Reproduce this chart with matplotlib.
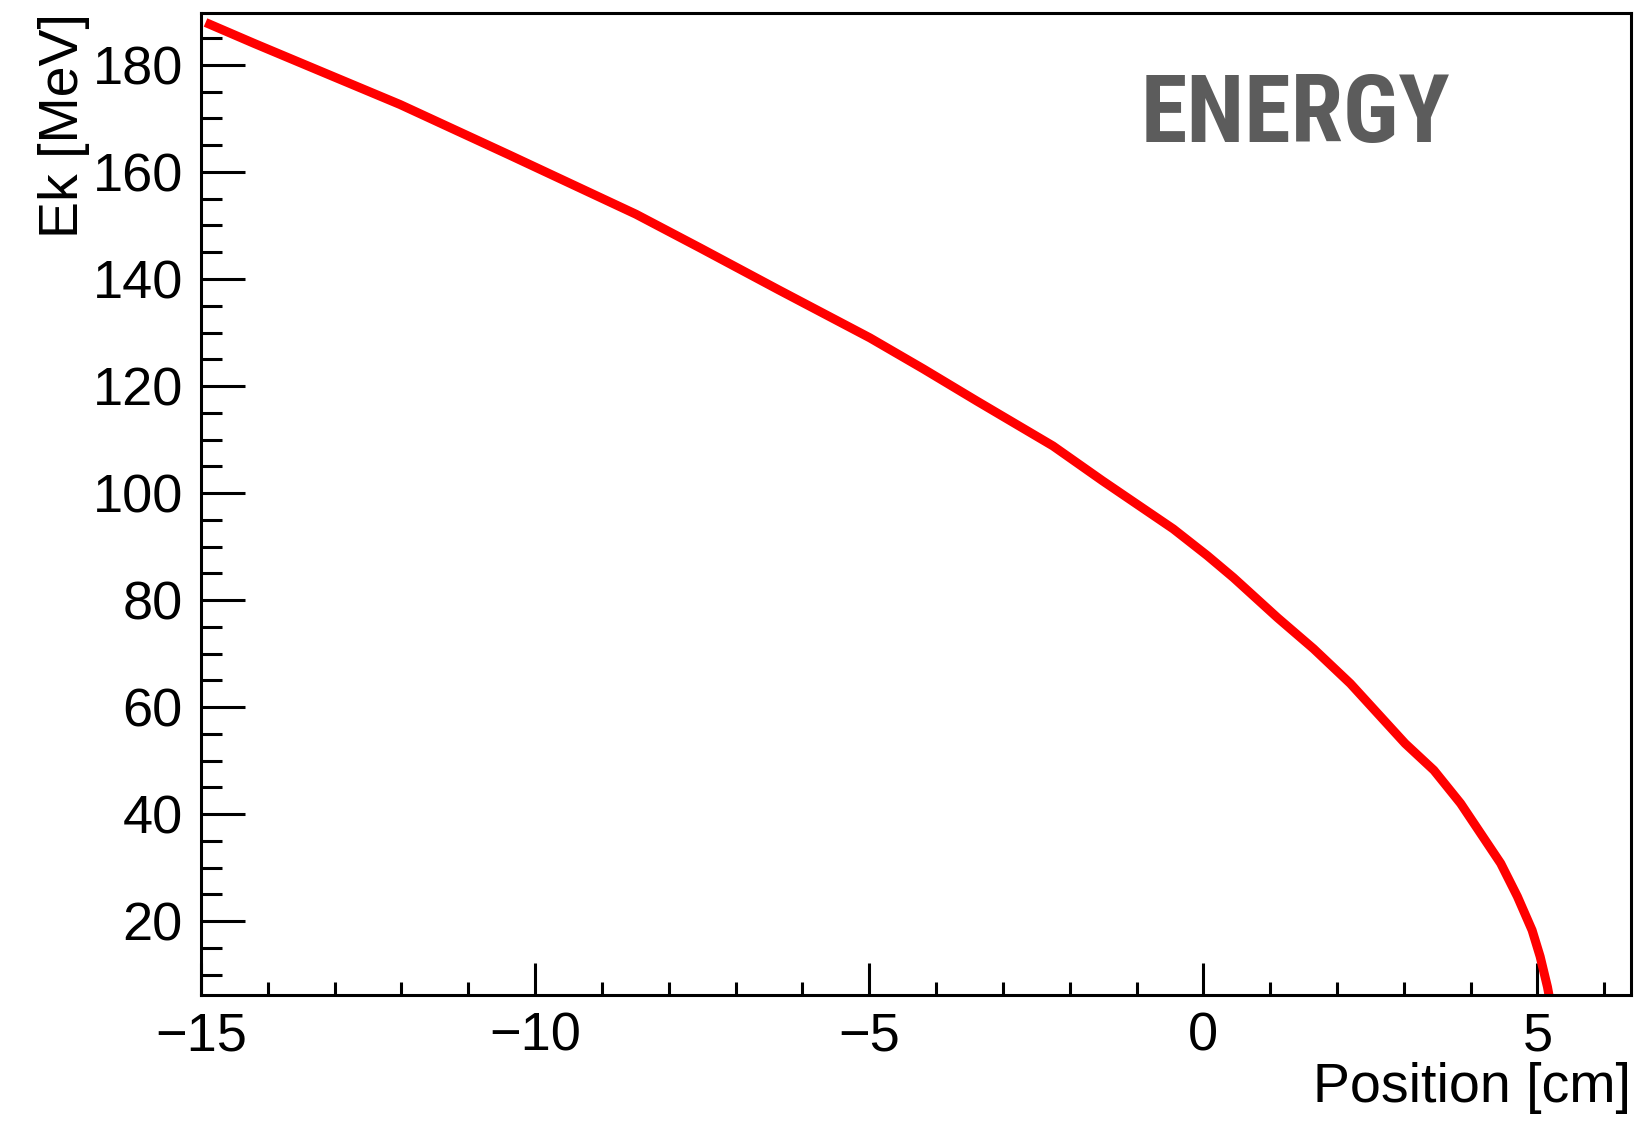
import matplotlib
matplotlib.use("Agg")
import matplotlib.pyplot as plt
import matplotlib.font_manager as fm
from matplotlib.ticker import MultipleLocator

# Kinetic energy along the track
position_cm = [-14.87, -14.20, -13.13, -12.02, -10.39, -8.49, -7.53, -6.36,
               -4.99, -4.19, -3.39, -2.25, -1.51, -0.45, 0.06, 0.45, 1.11,
               1.65, 2.20, 3.02, 3.45, 3.85, 4.15, 4.45, 4.70, 4.92, 5.04,
               5.15, 5.19]
energy_mev = [187.6, 184.0, 178.4, 172.6, 163.2, 152.1, 145.8, 138.0,
              129.0, 123.2, 117.2, 108.8, 102.3, 93.3, 88.3, 84.2, 76.7,
              70.9, 64.4, 53.2, 48.2, 42.0, 36.4, 30.8, 24.6, 18.3, 13.4,
              7.7, 5.0]

x_ticks = [-15, -10, -5, 0, 5]
y_ticks = [20, 40, 60, 80, 100, 120, 140, 160, 180]

plt.rcParams['font.family'] = ['Liberation Sans', 'DejaVu Sans']

# pick a condensed face for the big title if one is installed
names = {f.name for f in fm.fontManager.ttflist}
title_font = 'DejaVu Sans'
for cand in ['Roboto Condensed', 'Liberation Sans Narrow', 'DejaVu Sans Condensed']:
    if cand in names:
        title_font = cand
        break

fig = plt.figure(figsize=(16.39, 11.26), dpi=100)
ax = fig.add_axes([201 / 1639, 1 - 995 / 1126, 1430 / 1639, 982.5 / 1126])

ax.plot(position_cm, energy_mev, color='#ff0000', lw=6.5, solid_joinstyle='round')

ax.set_xlim(-15, 6.4)
ax.set_ylim(6.2, 189.8)
ax.set_xticks(x_ticks)
ax.set_yticks(y_ticks)
ax.xaxis.set_minor_locator(MultipleLocator(1))
ax.yaxis.set_minor_locator(MultipleLocator(5))

for s in ax.spines.values():
    s.set_linewidth(2.2)

ax.tick_params(axis='both', which='both', direction='in', width=2.2,
               top=False, right=False, labelsize=39, colors='black')
ax.tick_params(axis='y', which='major', length=31.7, pad=13)
ax.tick_params(axis='y', which='minor', length=15)
ax.tick_params(axis='x', which='major', length=23, pad=12)
ax.tick_params(axis='x', which='minor', length=9.6)

ax.set_xlabel('Position [cm]', loc='right', fontsize=40, labelpad=0)
ax.set_ylabel('Ek [MeV]', loc='top', fontsize=40, labelpad=2)

fig.text(1295 / 1639, 1 - 142 / 1126, 'ENERGY', family=title_font,
         fontsize=68, color='#5c5c5c', ha='center', va='baseline',
         fontweight='bold')

fig.savefig('out.png', dpi=100)
